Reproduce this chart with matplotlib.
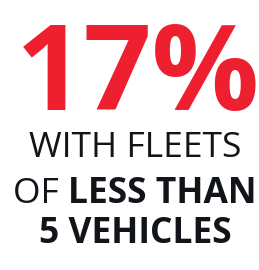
import matplotlib
matplotlib.use('Agg')
import matplotlib.pyplot as plt

# the big number and the caption lines (text, bold?) pieces
value = '17%'
lines = [
    [('WITH FLEETS', False)],
    [('OF ', False), ('LESS THAN', True)],
    [('5 VEHICLES', True)],
]
line_y = [157, 203, 243]   # baselines in pixels from top

red = '#ee1f2f'
dark = '#111418'

plt.rcParams['font.family'] = ['Open Sans', 'DejaVu Sans']

fig = plt.figure(figsize=(2.59, 2.70), dpi=100)
ax = fig.add_axes([0, 0, 1, 1])
ax.set_xlim(0, 259)
ax.set_ylim(270, 0)
ax.axis('off')

ax.text(138, 110, value, color=red, fontsize=86, fontweight='bold',
        ha='center', va='baseline')

fig.canvas.draw()
r = fig.canvas.get_renderer()
for parts, y in zip(lines, line_y):
    texts = []
    for s, bold in parts:
        t = ax.text(0, y, s, color=dark, fontsize=25.5,
                    fontweight='bold' if bold else 'normal',
                    ha='left', va='baseline')
        texts.append(t)
    widths = [t.get_window_extent(r).width for t in texts]
    x = 135 - sum(widths) / 2
    for t, w in zip(texts, widths):
        t.set_x(x)
        x += w

fig.savefig('out.png', dpi=100)
